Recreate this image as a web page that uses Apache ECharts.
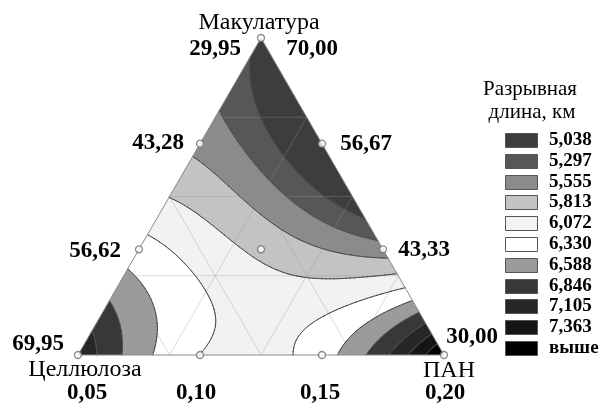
<!DOCTYPE html>
<html>
<head>
<meta charset="utf-8">
<script src="https://cdn.jsdelivr.net/npm/echarts@6/dist/echarts.min.js"></script>
<style>
  html, body { margin: 0; padding: 0; background: #fff; }
  #chart { width: 600px; height: 403px; }
</style>
</head>
<body>
<div id="chart"></div>
<script>
// точки плана (симплекс-решётка {3,3}), в долях 1/3: [Макулатура, Целлюлоза, ПАН]
const designPoints = [[3, 0, 0], [2, 1, 0], [2, 0, 1], [1, 2, 0], [1, 1, 1], [1, 0, 2], [0, 3, 0], [0, 2, 1], [0, 1, 2], [0, 0, 3]]
// разрывная длина в точках плана, км (оценка по изолиниям рисунка)
const designValues = [4.96, 5.48, 4.56, 6.18, 5.75, 5.42, 7.07, 6.07, 6.22, 7.68]
// уровни изолиний
const levels = [5.038, 5.297, 5.555, 5.813, 6.072, 6.330, 6.588, 6.846, 7.105, 7.363]
const legendLabels = ['5,038', '5,297', '5,555', '5,813', '6,072', '6,330', '6,588', '6,846', '7,105', '7,363', 'выше']
const bandColors = ['#3d3d3d', '#575757', '#8b8b8b', '#c3c3c3', '#f2f2f2', '#ffffff', '#9b9b9b', '#383838', '#262626', '#151515', '#000000']
// подписи шкал
const leftTicks = ['29,95', '43,28', '56,62', '69,95'] // Целлюлоза
const rightTicks = ['70,00', '56,67', '43,33', '30,00'] // Макулатура
const bottomTicks = ['0,05', '0,10', '0,15', '0,20'] // ПАН
const gridFractions = [0.25, 0.5, 0.75]

const H = Math.sqrt(3) / 2
function toXY(a, b, c) {
  return [c + a / 2, a * H]
}

// кубическая модель Шеффе через 10 точек плана
function basis(n, t) {
  let r = 1
  for (let m = 0; m < n; m++) r *= (3 * t - m) / (m + 1)
  return r
}
function surface(a, b, c) {
  let s = 0
  for (let i = 0; i < designPoints.length; i++) {
    const p = designPoints[i]
    s += designValues[i] * basis(p[0], a) * basis(p[1], b) * basis(p[2], c)
  }
  return s
}

// сетка треугольников
const N = 90
const nodes = []
for (let i = 0; i <= N; i++) {
  nodes[i] = []
  for (let j = 0; j <= N - i; j++) {
    const a = i / N
    const c = j / N
    const b = Math.max(0, 1 - a - c)
    const xy = toXY(a, b, c)
    nodes[i][j] = [xy[0], xy[1], surface(a, b, c)]
  }
}
const cells = []
for (let i = 0; i < N; i++) {
  for (let j = 0; j < N - i; j++) {
    cells.push([nodes[i][j], nodes[i][j + 1], nodes[i + 1][j]])
    if (j < N - i - 1) cells.push([nodes[i + 1][j], nodes[i][j + 1], nodes[i + 1][j + 1]])
  }
}

function clip(poly, t, above) {
  const out = []
  for (let i = 0; i < poly.length; i++) {
    const p = poly[i]
    const q = poly[(i + 1) % poly.length]
    const pin = above ? p[2] >= t : p[2] < t
    const qin = above ? q[2] >= t : q[2] < t
    if (pin) out.push(p)
    if (pin !== qin) {
      const r = (t - p[2]) / (q[2] - p[2])
      out.push([p[0] + r * (q[0] - p[0]), p[1] + r * (q[1] - p[1]), t])
    }
  }
  return out
}

const bandPolys = bandColors.map((col, k) => {
  const lo = k > 0 ? levels[k - 1] : -Infinity
  const hi = k < levels.length ? levels[k] : Infinity
  const out = []
  cells.forEach(tri => {
    const vmin = Math.min(tri[0][2], tri[1][2], tri[2][2])
    const vmax = Math.max(tri[0][2], tri[1][2], tri[2][2])
    if (vmax < lo || vmin >= hi) return
    let p = tri
    if (vmin < lo) p = clip(p, lo, true)
    if (p.length > 2 && vmax >= hi) p = clip(p, hi, false)
    if (p.length > 2) out.push(p)
  })
  return out
})

const contourSegs = levels.map(t => {
  const segs = []
  cells.forEach(tri => {
    const pts = []
    for (let e = 0; e < 3; e++) {
      const p = tri[e]
      const q = tri[(e + 1) % 3]
      if ((p[2] >= t) !== (q[2] >= t)) {
        const r = (t - p[2]) / (q[2] - p[2])
        pts.push([p[0] + r * (q[0] - p[0]), p[1] + r * (q[1] - p[1])])
      }
    }
    if (pts.length === 2) segs.push(pts)
  })
  return segs
})

function toPath(polys, api, close) {
  let d = ''
  polys.forEach(poly => {
    poly.forEach((p, n) => {
      const px = api.coord([p[0], p[1]])
      d += (n ? 'L' : 'M') + px[0].toFixed(2) + ' ' + px[1].toFixed(2)
    })
    if (close) d += 'Z'
  })
  return d
}

const numFont = 'bold 23px "Liberation Serif"'
const nameFont = '24px "Liberation Serif"'
function label(text, x, y, font, align) {
  return {
    type: 'text', x: x, y: y, z: 10,
    style: { text: text, font: font || numFont, fill: '#000', align: align || 'center', verticalAlign: 'middle' }
  }
}

const graphic = [
  label('Макулатура', 259, 23, nameFont),
  label('Целлюлоза', 85, 370, nameFont),
  label('ПАН', 449, 371, nameFont),
  label(leftTicks[0], 215, 49),
  label(leftTicks[1], 158, 143),
  label(leftTicks[2], 95, 251),
  label(leftTicks[3], 38, 344),
  label(rightTicks[0], 312, 49),
  label(rightTicks[1], 366, 144),
  label(rightTicks[2], 424, 250),
  label(rightTicks[3], 472, 337),
  label(bottomTicks[0], 87, 393),
  label(bottomTicks[1], 196, 393),
  label(bottomTicks[2], 320, 393),
  label(bottomTicks[3], 445, 393),
  label('Разрывная', 530, 89, '21px "Liberation Serif"'),
  label('длина, км', 532, 112, '21px "Liberation Serif"')
]
legendLabels.forEach((lab, k) => {
  const y = Math.round(133 + k * 20.8) + 0.5
  graphic.push({
    type: 'rect', z: 10,
    shape: { x: 505.5, y: y, width: 32, height: 14 },
    style: { fill: bandColors[k], stroke: '#555', lineWidth: 1 }
  })
  graphic.push(label(lab, 549, y + 7, 'bold 19px "Liberation Serif"', 'left'))
})

const chart = echarts.init(document.getElementById('chart'))
chart.setOption({
  animation: false,
  grid: { left: 78, top: 38, width: 366, height: 317 },
  xAxis: { type: 'value', min: 0, max: 1, show: false },
  yAxis: { type: 'value', min: 0, max: H, show: false },
  series: [
    {
      type: 'custom',
      silent: true,
      clip: false,
      z: 1,
      data: bandColors.map(() => [0.5, 0.3]),
      renderItem: (params, api) => {
        const polys = bandPolys[params.dataIndex]
        if (!polys.length) return { type: 'group', children: [] }
        return {
          type: 'path',
          shape: { pathData: toPath(polys, api, true) },
          style: { fill: bandColors[params.dataIndex], stroke: null }
        }
      }
    },
    {
      type: 'custom',
      silent: true,
      clip: false,
      z: 2,
      data: [[0.5, 0.3]],
      renderItem: (params, api) => {
        const children = []
        gridFractions.forEach(t => {
          const segs = [
            [toXY(t, 1 - t, 0), toXY(t, 0, 1 - t)],
            [toXY(1 - t, t, 0), toXY(0, t, 1 - t)],
            [toXY(1 - t, 0, t), toXY(0, 1 - t, t)]
          ]
          segs.forEach(s => {
            const p1 = api.coord(s[0])
            const p2 = api.coord(s[1])
            children.push({
              type: 'line',
              shape: { x1: p1[0], y1: p1[1], x2: p2[0], y2: p2[1] },
              style: { stroke: 'rgba(150,150,150,0.35)', lineWidth: 1 }
            })
          })
        })
        return { type: 'group', children: children }
      }
    },
    {
      type: 'custom',
      silent: true,
      clip: false,
      z: 3,
      data: levels.map(() => [0.5, 0.3]),
      renderItem: (params, api) => {
        const segs = contourSegs[params.dataIndex]
        if (!segs.length) return { type: 'group', children: [] }
        return {
          type: 'path',
          shape: { pathData: toPath(segs, api, false) },
          style: { fill: null, stroke: '#4a4a4a', lineWidth: 1, lineCap: 'round' }
        }
      }
    },
    {
      type: 'custom',
      silent: true,
      clip: false,
      z: 4,
      data: [[0.5, 0.3]],
      renderItem: (params, api) => {
        const A = api.coord(toXY(1, 0, 0))
        const B = api.coord(toXY(0, 1, 0))
        const C = api.coord(toXY(0, 0, 1))
        return {
          type: 'polygon',
          shape: { points: [A, B, C] },
          style: { fill: null, stroke: '#8a8a8a', lineWidth: 1 }
        }
      }
    },
    {
      type: 'scatter',
      silent: true,
      z: 5,
      symbolSize: 7,
      itemStyle: { color: '#fff', borderColor: '#6e6e6e', borderWidth: 1.3 },
      data: designPoints.map(p => toXY(p[0] / 3, p[1] / 3, p[2] / 3))
    }
  ],
  graphic: graphic
})
</script>
</body>
</html>
